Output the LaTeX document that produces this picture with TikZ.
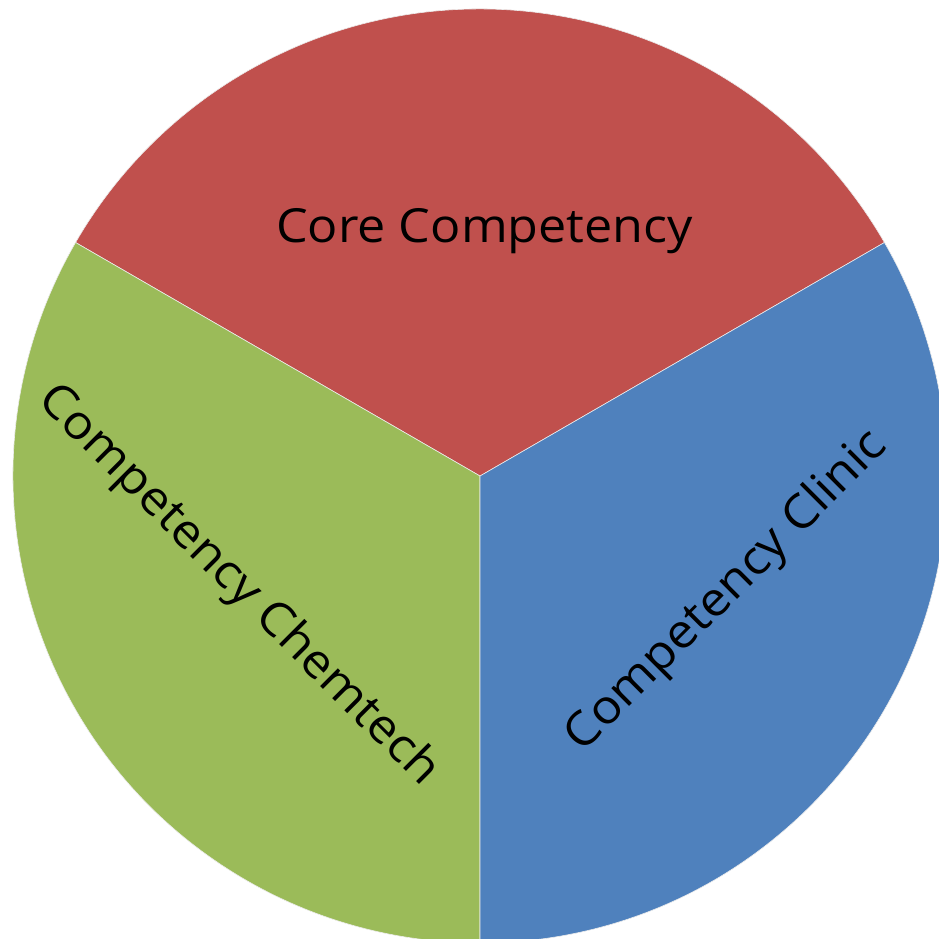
\documentclass[tikz,border=0pt]{standalone}
\usepackage{fontspec}
\setmainfont{Open Sans}
\definecolor{pieRed}{HTML}{C0504D}
\definecolor{pieGreen}{HTML}{9BBB59}
\definecolor{pieBlue}{HTML}{4F81BD}
\newcommand{\widetxt}[1]{\scalebox{1.07}[1]{#1}}
\begin{document}
\begin{tikzpicture}[x=1pt,y=1pt,
  wedge/.style={draw=white!85!gray, line width=0.6pt, line join=round},
  lbl/.style={font=\fontsize{47}{50}\selectfont, text=black, inner sep=0pt}]
\useasboundingbox (0,0) rectangle (939,-938);
\clip (0,0) rectangle (939,-938);
\coordinate (c) at (480,-476);
\fill[pieRed, wedge] (c) -- ++(30:467) arc[start angle=30, end angle=150, radius=467] -- cycle;
\fill[pieGreen, wedge] (c) -- ++(150:467) arc[start angle=150, end angle=270, radius=467] -- cycle;
\fill[pieBlue, wedge] (c) -- ++(270:467) arc[start angle=270, end angle=390, radius=467] -- cycle;
\node[lbl, anchor=base] (core) at (484.5,-242) {\widetxt{Core Competency}};
\node[lbl, rotate=-45] (chem) at (238,-586) {\widetxt{Competency Chemtech}};
\node[lbl, rotate=45] (clin) at (727,-592) {\widetxt{Competency Clinic}};
\end{tikzpicture}
\end{document}
